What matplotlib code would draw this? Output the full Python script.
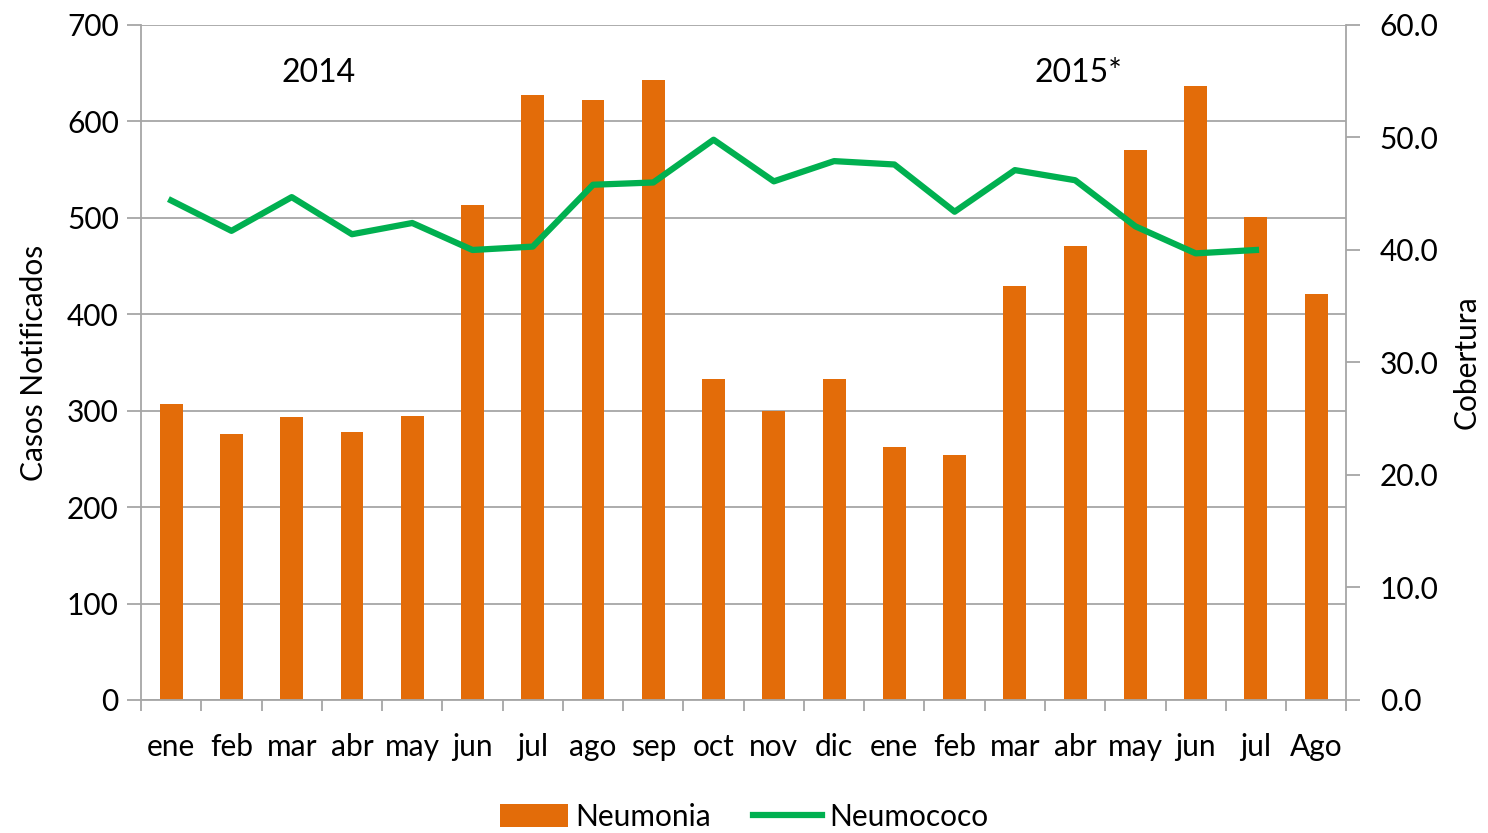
import matplotlib.pyplot as plt
import numpy as np

plt.rcParams['font.family'] = ['Lato', 'DejaVu Sans']

meses = ['ene', 'feb', 'mar', 'abr', 'may', 'jun', 'jul', 'ago', 'sep', 'oct',
         'nov', 'dic', 'ene', 'feb', 'mar', 'abr', 'may', 'jun', 'jul', 'Ago']
neumonia = [307, 276, 293, 278, 295, 513, 627, 622, 643, 333,
            300, 333, 262, 254, 429, 471, 570, 637, 501, 421]
neumococo = [44.4, 41.7, 44.7, 41.4, 42.4, 40.0, 40.3, 45.8, 46.0, 49.8,
             46.1, 47.9, 47.6, 43.4, 47.1, 46.2, 42.1, 39.7, 40.0]

naranja = '#E36C09'
verde = '#00B050'
gris = '#A6A6A6'
fs = 21.5

fig = plt.figure(figsize=(14.88, 8.33), dpi=100)
ax = fig.add_axes([0.0948, 0.1597, 0.81, 0.8103])
x = np.arange(len(meses))

ax.bar(x, neumonia, width=0.38, color=naranja, label='Neumonia', zorder=2)
ax.set_xlim(-0.5, len(meses) - 0.5)
ax.set_ylim(0, 700)
ax.set_yticks(range(0, 701, 100))
ax.yaxis.grid(True, color=gris, linewidth=1.3, zorder=0)
ax.set_axisbelow(True)
ax.set_xticks(x)
ax.set_xticklabels(meses, fontsize=fs)
ax.set_xticks(np.arange(-0.5, len(meses), 1), minor=True)
ax.tick_params(axis='x', which='major', length=0, pad=24)
ax.tick_params(axis='x', which='minor', length=8, color=gris, width=1.3)
ax.tick_params(axis='y', labelsize=fs, length=10, color=gris, width=1.3, pad=6)
for s in ['top', 'right']:
    ax.spines[s].set_visible(False)
for s in ['left', 'bottom']:
    ax.spines[s].set_color(gris)
    ax.spines[s].set_linewidth(1.3)
ax.set_ylabel('Casos Notificados', fontsize=fs, labelpad=14)

ax2 = ax.twinx()
ax2.plot(np.arange(len(neumococo)), neumococo, color=verde, linewidth=4.5,
         label='Neumococo', zorder=3)
ax2.set_ylim(0, 60)
ax2.set_yticks(np.arange(0, 61, 10))
ax2.set_yticklabels(['%.1f' % v for v in np.arange(0, 61, 10)])
ax2.tick_params(axis='y', labelsize=fs, length=10, color=gris, width=1.3, pad=14)
for s in ['top', 'left', 'bottom']:
    ax2.spines[s].set_visible(False)
ax2.spines['right'].set_color(gris)
ax2.spines['right'].set_linewidth(1.3)
ax2.set_ylabel('Cobertura', fontsize=fs, labelpad=10)

ax.text(2.44, 650, '2014', fontsize=23, ha='center', va='center')
ax.text(15.05, 650, '2015*', fontsize=23, ha='center', va='center')

h1, l1 = ax.get_legend_handles_labels()
h2, l2 = ax2.get_legend_handles_labels()
fig.legend(h1 + h2, l1 + l2, loc='lower center', bbox_to_anchor=(0.5, -0.03),
           ncol=2, frameon=False, fontsize=fs, handlelength=2.3, handleheight=0.8,
           columnspacing=1.4, handletextpad=0.25)

fig.savefig('out.png', dpi=100)
